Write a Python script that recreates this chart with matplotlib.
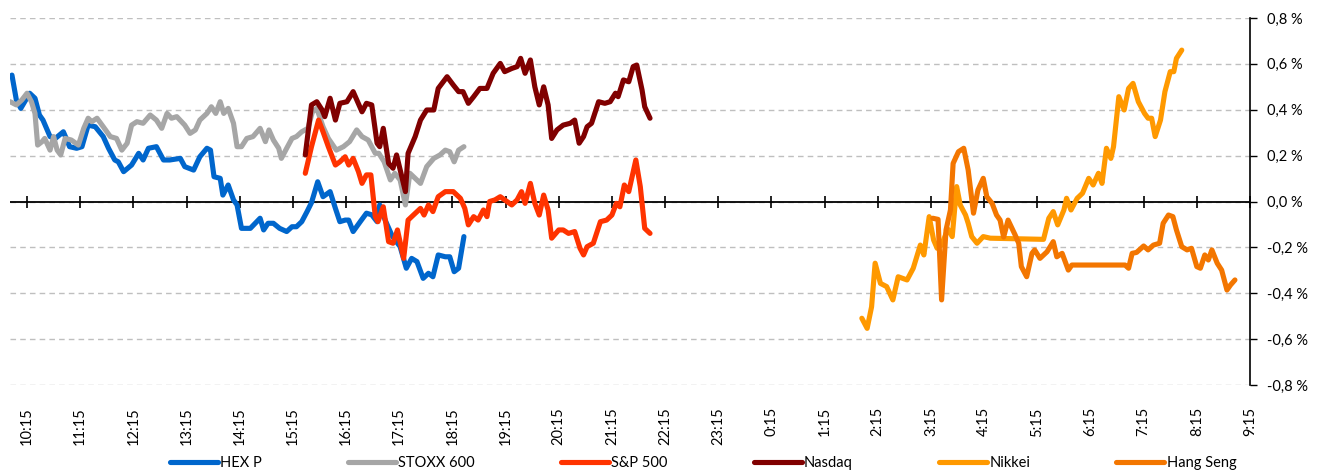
import matplotlib
matplotlib.use("Agg")
import matplotlib.pyplot as plt
import numpy as np

plt.rcParams["font.family"] = ["Lato", "DejaVu Sans"]

# intraday moves in %, times in local (Finnish) clock
hex_t = ["9:58", "10:03", "10:08", "10:18", "10:24", "10:29", "10:33", "10:41", "10:47", "10:56",
         "11:00", "11:03", "11:11", "11:17", "11:24", "11:32", "11:41", "11:47", "11:54", "11:58",
         "12:04", "12:13", "12:21", "12:26", "12:32", "12:41", "12:49", "12:56", "13:08", "13:13",
         "13:23", "13:30", "13:38", "13:42", "13:46", "13:53", "13:56", "14:02", "14:08", "14:12",
         "14:17", "14:27", "14:38", "14:42", "14:47", "14:53", "15:00", "15:08", "15:14", "15:19",
         "15:25", "15:31", "15:36", "15:43", "15:49", "15:57", "16:03", "16:08", "16:14", "16:18",
         "16:23", "16:31", "16:38", "16:44", "16:50", "16:53", "16:59", "17:07", "17:16", "17:23",
         "17:29", "17:35", "17:42", "17:48", "17:53", "17:59", "18:07", "18:12", "18:17", "18:22",
         "18:28"]
hex_v = [0.551, 0.442, 0.406, 0.472, 0.45, 0.377, 0.355, 0.283, 0.275, 0.304,
         0.268, 0.239, 0.232, 0.239, 0.333, 0.326, 0.283, 0.232, 0.181, 0.173,
         0.130, 0.159, 0.210, 0.181, 0.232, 0.239, 0.181, 0.181, 0.188, 0.152,
         0.137, 0.195, 0.232, 0.224, 0.108, 0.101, 0.028, 0.072, 0.007, -0.015,
         -0.117, -0.117, -0.073, -0.124, -0.095, -0.095, -0.117, -0.131, -0.110, -0.110,
         -0.088, -0.044, -0.005, 0.086, 0.021, 0.043, -0.030, -0.088, -0.081, -0.081,
         -0.131, -0.088, -0.051, -0.058, -0.088, -0.015, -0.080, -0.150, -0.197, -0.291,
         -0.248, -0.262, -0.335, -0.313, -0.328, -0.233, -0.241, -0.241, -0.306, -0.291,
         -0.153]

stoxx_t = ["9:56", "10:03", "10:09", "10:15", "10:20", "10:24", "10:27", "10:32", "10:35", "10:41",
           "10:45", "10:49", "10:53", "10:58", "11:05", "11:13", "11:19", "11:24", "11:28", "11:34",
           "11:41", "11:49", "11:56", "12:02", "12:08", "12:13", "12:19", "12:26", "12:34", "12:41",
           "12:47", "12:53", "12:58", "13:04", "13:13", "13:19", "13:25", "13:30", "13:38", "13:43",
           "13:48", "13:53", "13:57", "14:02", "14:08", "14:12", "14:17", "14:23", "14:30", "14:38",
           "14:44", "14:48", "14:53", "14:59", "15:02", "15:08", "15:14", "15:19", "15:25", "15:32",
           "15:37", "15:42", "15:49", "15:55", "16:04", "16:12", "16:19", "16:27", "16:33", "16:40",
           "16:48", "16:52", "16:58", "17:05", "17:10", "17:16", "17:22", "17:27", "17:33", "17:39",
           "17:46", "17:54", "18:01", "18:07", "18:12", "18:17", "18:22", "18:28"]
stoxx_v = [0.435, 0.421, 0.442, 0.472, 0.435, 0.384, 0.246, 0.261, 0.275, 0.224,
           0.283, 0.224, 0.203, 0.275, 0.268, 0.246, 0.319, 0.363, 0.348, 0.363,
           0.326, 0.283, 0.275, 0.224, 0.254, 0.333, 0.348, 0.341, 0.377, 0.355,
           0.319, 0.384, 0.363, 0.370, 0.333, 0.297, 0.312, 0.355, 0.384, 0.413,
           0.384, 0.435, 0.384, 0.406, 0.341, 0.239, 0.239, 0.275, 0.283, 0.319,
           0.261, 0.312, 0.268, 0.232, 0.188, 0.232, 0.275, 0.283, 0.304, 0.319,
           0.390, 0.406, 0.326, 0.275, 0.224, 0.239, 0.261, 0.312, 0.283, 0.268,
           0.210, 0.210, 0.173, 0.094, 0.123, 0.094, -0.015, 0.123, 0.101, 0.079,
           0.152, 0.188, 0.203, 0.224, 0.217, 0.173, 0.224, 0.239]

sp_t = ["15:29", "15:36", "15:44", "15:49", "15:55", "16:03", "16:08", "16:14", "16:18", "16:23",
        "16:29", "16:33", "16:38", "16:43", "16:48", "16:51", "16:57", "17:03", "17:08", "17:13",
        "17:20", "17:25", "17:31", "17:39", "17:43", "17:48", "17:53", "17:59", "18:07", "18:16",
        "18:24", "18:29", "18:33", "18:39", "18:44", "18:50", "18:54", "18:57", "19:03", "19:09",
        "19:14", "19:22", "19:28", "19:33", "19:37", "19:43", "19:48", "19:53", "19:58", "20:03",
        "20:07", "20:15", "20:20", "20:26", "20:33", "20:39", "20:43", "20:47", "20:54", "21:02",
        "21:09", "21:15", "21:20", "21:24", "21:29", "21:34", "21:42", "21:47", "21:52", "21:58"]
sp_v = [0.123, 0.239, 0.355, 0.304, 0.239, 0.159, 0.173, 0.195, 0.159, 0.188,
        0.130, 0.079, 0.116, 0.116, -0.066, -0.088, -0.023, -0.175, -0.182, -0.124,
        -0.248, -0.081, -0.059, -0.030, -0.059, -0.015, -0.044, 0.021, 0.043, 0.043,
        0.014, -0.030, -0.102, -0.066, -0.081, -0.037, -0.066, 0.000, 0.007, 0.021,
        0.007, -0.015, 0.007, 0.043, -0.008, 0.079, -0.008, -0.059, 0.028, -0.037,
        -0.160, -0.124, -0.124, -0.139, -0.131, -0.204, -0.233, -0.197, -0.182, -0.088,
        -0.081, -0.059, -0.008, -0.023, 0.072, 0.043, 0.181, 0.065, -0.117, -0.139]

nasdaq_t = ["15:29", "15:36", "15:42", "15:48", "15:51", "15:57", "16:03", "16:08", "16:16", "16:23",
            "16:33", "16:38", "16:44", "16:50", "16:53", "16:57", "17:03", "17:08", "17:12", "17:22",
            "17:25", "17:33", "17:39", "17:46", "17:54", "17:59", "18:09", "18:16", "18:22", "18:27",
            "18:33", "18:39", "18:46", "18:54", "19:01", "19:09", "19:14", "19:22", "19:28", "19:32",
            "19:37", "19:43", "19:48", "19:53", "19:58", "20:03", "20:07", "20:13", "20:20", "20:28",
            "20:33", "20:38", "20:43", "20:47", "20:52", "21:00", "21:07", "21:13", "21:19", "21:22",
            "21:28", "21:34", "21:39", "21:43", "21:49", "21:52", "21:58"]
nasdaq_v = [0.203, 0.421, 0.435, 0.399, 0.370, 0.450, 0.355, 0.428, 0.435, 0.479,
            0.391, 0.428, 0.421, 0.254, 0.239, 0.319, 0.166, 0.145, 0.203, 0.043,
            0.210, 0.283, 0.355, 0.399, 0.399, 0.493, 0.544, 0.508, 0.479, 0.479,
            0.428, 0.457, 0.493, 0.493, 0.559, 0.602, 0.566, 0.580, 0.588, 0.624,
            0.559, 0.617, 0.500, 0.421, 0.500, 0.421, 0.275, 0.312, 0.333, 0.341,
            0.355, 0.254, 0.283, 0.326, 0.341, 0.435, 0.428, 0.435, 0.472, 0.457,
            0.530, 0.522, 0.588, 0.595, 0.486, 0.413, 0.363]

nikkei_t = ["1:57", "2:03", "2:08", "2:12", "2:18", "2:25", "2:32", "2:38", "2:48", "2:55",
            "3:03", "3:07", "3:13", "3:18", "3:22", "3:27", "3:34", "3:39", "3:44", "3:48",
            "3:54", "3:57", "4:01", "4:07", "4:14", "4:22", "5:22", "5:28", "5:33", "5:38",
            "5:45", "5:48", "5:53", "6:00", "6:06", "6:13", "6:18", "6:24", "6:28", "6:33",
            "6:38", "6:41", "6:47", "6:53", "6:58", "7:03", "7:09", "7:16", "7:20", "7:24",
            "7:28", "7:34", "7:39", "7:45", "7:49", "7:52", "7:58"]
nikkei_v = [-0.509, -0.553, -0.459, -0.269, -0.357, -0.371, -0.429, -0.328, -0.342, -0.291,
            -0.190, -0.233, -0.066, -0.168, -0.204, -0.190, -0.120, -0.153, 0.065, -0.015,
            -0.059, -0.095, -0.153, -0.182, -0.153, -0.160, -0.165, -0.073, -0.044, -0.102,
            -0.037, 0.014, -0.037, 0.014, 0.036, 0.101, 0.072, 0.123, 0.079, 0.232,
            0.188, 0.239, 0.457, 0.399, 0.493, 0.515, 0.435, 0.384, 0.363, 0.363,
            0.283, 0.355, 0.479, 0.566, 0.566, 0.624, 0.660]

hang_t = ["3:17", "3:23", "3:27", "3:32", "3:37", "3:40", "3:46", "3:52", "3:57", "4:03",
          "4:08", "4:14", "4:18", "4:24", "4:29", "4:33", "4:37", "4:42", "4:50", "4:54",
          "4:57", "5:03", "5:09", "5:12", "5:18", "5:26", "5:33", "5:37", "5:43", "5:50",
          "5:54", "6:54", "6:58", "7:02", "7:07", "7:15", "7:20", "7:26", "7:33", "7:37",
          "7:43", "7:48", "7:52", "7:58", "8:04", "8:09", "8:15", "8:19", "8:24", "8:28",
          "8:32", "8:38", "8:43", "8:49", "8:53", "8:58"]
hang_v = [-0.073, -0.078, -0.429, -0.124, -0.037, 0.166, 0.217, 0.232, 0.137, -0.051,
          0.050, 0.101, 0.021, -0.008, -0.059, -0.081, -0.155, -0.081, -0.146, -0.182,
          -0.284, -0.328, -0.226, -0.211, -0.248, -0.219, -0.175, -0.241, -0.226, -0.299,
          -0.277, -0.277, -0.291, -0.226, -0.222, -0.194, -0.211, -0.190, -0.182, -0.095,
          -0.059, -0.066, -0.124, -0.197, -0.211, -0.204, -0.284, -0.291, -0.233, -0.255,
          -0.211, -0.269, -0.299, -0.386, -0.364, -0.342]

series = [
    ("HEX P", hex_t, hex_v, "#0066CC"),
    ("STOXX 600", stoxx_t, stoxx_v, "#A6A6A6"),
    ("S&P 500", sp_t, sp_v, "#FF3300"),
    ("Nasdaq", nasdaq_t, nasdaq_v, "#800000"),
    ("Nikkei", nikkei_t, nikkei_v, "#FF9900"),
    ("Hang Seng", hang_t, hang_v, "#F37600"),
]


def to_hours(t):
    # hours since 10:15, times before 9:00 belong to the next day
    h, m = (int(p) for p in t.split(":"))
    if h < 9:
        h += 24
    return h + m / 60 - (10 + 15 / 60)


fig = plt.figure(figsize=(13.19, 4.76), dpi=100)
ax = fig.add_axes([10 / 1319, 91 / 476, 1240 / 1319, 367 / 476])

for name, t, v, c in series:
    ax.plot([to_hours(x) for x in t], v, color=c, lw=3.7, label=name,
            solid_joinstyle="round", solid_capstyle="round", zorder=3)

hours = np.arange(0, 24)
ax.set_xlim(-0.32, 23)
ax.set_ylim(-0.8, 0.8)
ax.set_xticks(hours)
ax.set_xticklabels([f"{(10 + h) % 24}:15" for h in hours], rotation=90, fontsize=10.5)
ax.tick_params(axis="x", length=0, pad=16)

ax.yaxis.tick_right()
ax.set_yticks(np.arange(-0.8, 0.81, 0.2))
ax.set_yticklabels([f"{y:.1f} %".replace(".", ",").replace("-0,0", "0,0")
                    for y in np.arange(-0.8, 0.81, 0.2)], fontsize=10.5)
ax.tick_params(axis="y", direction="out", length=5, width=1, pad=7)
ax.yaxis.grid(True, ls=(0, (4, 3)), color="#BFBFBF", lw=1)

for s in ["top", "left", "bottom"]:
    ax.spines[s].set_visible(False)
ax.spines["right"].set_linewidth(1.2)

ax.axhline(0, color="black", lw=1.3, zorder=2)
ax.plot(hours, np.zeros(len(hours)), ls="none", marker="|", ms=9, mew=1.2,
        color="black", zorder=2, clip_on=False)

fig.legend(loc="center", bbox_to_anchor=(0.533, 0.027), ncol=6, frameon=False,
           fontsize=10.5, handlelength=3.3, handletextpad=0.15, columnspacing=5.9)

fig.savefig("out.png", dpi=100)
